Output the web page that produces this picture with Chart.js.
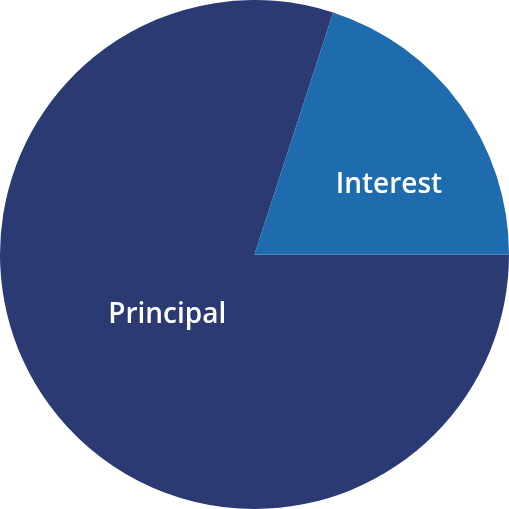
<!doctype html>
<html>
<head>
  <meta charset="utf-8" />
  <title>Principal vs Interest</title>
  <style>
    html, body { margin:0; padding:0; background:#fff; }
    .wrap { width:509px; height:509px; }
  </style>
</head>
<body>
  <div class="wrap"><canvas id="chart"></canvas></div>

  <script src="https://cdn.jsdelivr.net/npm/chart.js@4.4.1/dist/chart.umd.min.js"></script>
  <script>
    const labels = ['Principal', 'Interest'];
    const values = [80, 20];
    const colors = ['#2b3a72', '#1e6bae'];

    // label placement relative to the pie centre, in units of the outer radius
    const labelOffsets = [[-0.343, 0.236], [0.528, -0.272]];

    const sliceLabels = {
      id: 'sliceLabels',
      afterDatasetsDraw(chart) {
        const { ctx } = chart;
        const meta = chart.getDatasetMeta(0);
        ctx.save();
        ctx.fillStyle = '#ffffff';
        ctx.font = '600 28px "Open Sans", sans-serif';
        ctx.textAlign = 'center';
        ctx.textBaseline = 'middle';
        meta.data.forEach((arc, i) => {
          const { x, y, outerRadius } = arc.getProps(['x', 'y', 'outerRadius'], true);
          const [ox, oy] = labelOffsets[i];
          ctx.fillText(chart.data.labels[i], x + ox * outerRadius, y + oy * outerRadius);
        });
        ctx.restore();
      }
    };

    new Chart(document.getElementById('chart'), {
      type: 'pie',
      data: {
        labels,
        datasets: [{ data: values, backgroundColor: colors, borderWidth: 0, hoverOffset: 0 }]
      },
      options: {
        responsive: true,
        maintainAspectRatio: false,
        animation: false,
        rotation: 90,
        layout: { padding: 0 },
        plugins: { legend: { display: false }, tooltip: { enabled: false } }
      },
      plugins: [sliceLabels]
    });
  </script>
</body>
</html>
